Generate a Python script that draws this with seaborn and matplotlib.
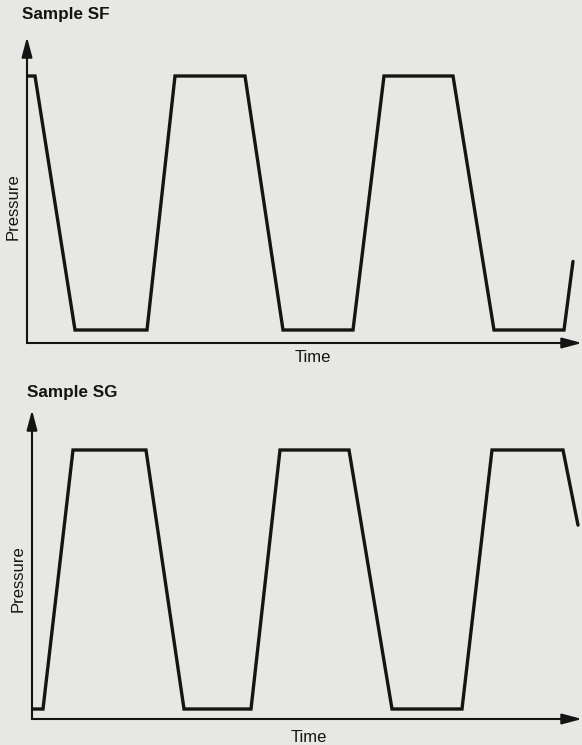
import matplotlib

matplotlib.use("Agg")

import matplotlib.pyplot as plt
import pandas as pd
import seaborn as sns


# pressure cycles (time in arbitrary units, pressure 0 = low, 1 = high)
SF_TIME = [0.0, 0.8, 4.8, 12.0, 14.8, 21.8, 25.6, 32.6, 35.7, 42.6, 46.7, 53.7, 54.6]
SF_PRESSURE = [1, 1, 0, 0, 1, 1, 0, 0, 1, 1, 0, 0, 0.27]

SG_TIME = [0.0, 1.1, 4.1, 11.4, 15.2, 21.9, 24.8, 31.7, 36.0, 43.0, 46.0, 53.1, 54.6]
SG_PRESSURE = [0, 0, 1, 1, 0, 0, 1, 1, 0, 0, 1, 1, 0.71]

TITLES = ["Sample SF", "Sample SG"]

W, H = 582, 745
PAPER = "#e7e7e4"
INK = "#141414"


def px(x, y):
    return x / W, 1 - y / H


def _panel(fig, rect_px, time, pressure, xlim, ylim, title, title_xy, ylabel_xy, xlabel_xy):
    left, top, right, bottom = rect_px
    ax = fig.add_axes([left / W, 1 - bottom / H, (right - left) / W, (bottom - top) / H])
    ax.set_facecolor("none")
    data = pd.DataFrame({"time": time, "pressure": pressure})
    sns.lineplot(
        data=data, x="time", y="pressure", ax=ax, sort=False, estimator=None,
        color=INK, linewidth=2.4, solid_joinstyle="miter",
    )
    ax.set_xlim(*xlim)
    ax.set_ylim(*ylim)
    ax.set_xticks([])
    ax.set_yticks([])
    for spine in ax.spines.values():
        spine.set_visible(False)

    arrow = dict(arrowstyle="-|>,head_length=0.6,head_width=0.16", color=INK,
                 lw=1.5, mutation_scale=20, shrinkA=0, shrinkB=0)
    ax.annotate("", xy=(0, 1), xytext=(0, 0), xycoords="axes fraction", arrowprops=arrow)
    ax.annotate("", xy=(1, 0), xytext=(0, 0), xycoords="axes fraction", arrowprops=arrow)

    ax.set_xlabel("Time", fontsize=12)
    ax.set_ylabel("Pressure", fontsize=12)
    ax.xaxis.set_label_coords(*px(*xlabel_xy), transform=fig.transFigure)
    ax.yaxis.set_label_coords(*px(*ylabel_xy), transform=fig.transFigure)
    ax.xaxis.label.set_va("center")
    ax.yaxis.label.set_va("center")
    fig.text(*px(*title_xy), title, fontsize=12.3, fontweight="bold", color=INK,
             ha="left", va="center")
    return ax


sns.set_theme(style="white")
plt.rcParams["font.family"] = ["Liberation Sans", "DejaVu Sans"]
plt.rcParams["text.color"] = INK
plt.rcParams["axes.labelcolor"] = INK

fig = plt.figure(figsize=(W / 100, H / 100), dpi=100, facecolor=PAPER)

_panel(fig, (27, 37, 582, 343), SF_TIME, SF_PRESSURE, (0, 55.5), (-0.0512, 1.1535),
       TITLES[0], (22, 15), (13, 207), (313, 358))
_panel(fig, (32, 410, 582, 719), SG_TIME, SG_PRESSURE, (0, 55.0), (-0.0386, 1.1544),
       TITLES[1], (27, 392), (18, 579), (309, 737))

fig.savefig("out.png", dpi=100, facecolor=PAPER)
